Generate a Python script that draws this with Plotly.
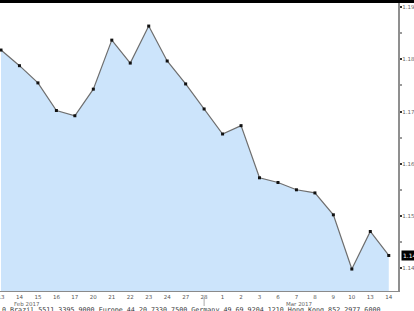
import plotly.graph_objects as go

dates = ["13", "14", "15", "16", "17", "20", "21", "22", "23", "24", "27", "28",
         "1", "2", "3", "6", "7", "8", "9", "10", "13", "14"]
values = [1.1818, 1.1788, 1.1755, 1.1702, 1.1692, 1.1743, 1.1837, 1.1793, 1.1864,
          1.1797, 1.1753, 1.1705, 1.1657, 1.1673, 1.1573, 1.1564, 1.1550, 1.1544,
          1.1502, 1.1398, 1.1470, 1.1424]
y_ticks = [1.14, 1.15, 1.16, 1.17, 1.18, 1.19]
month_labels = ["Feb 2017", "Mar 2017"]
month_pos = [1.43, 16.15]
footer = "0 Brazil 5511 3395 9000 Europe 44 20 7330 7500 Germany 49 69 9204 1210 Hong Kong 852 2977 6000"

idx = list(range(len(values)))

fig = go.Figure()
fig.add_trace(go.Scatter(
    x=idx, y=values, mode="lines+markers",
    fill="tozeroy", fillcolor="#cce4fb",
    line=dict(color="#6e6e6e", width=1.2),
    marker=dict(symbol="square", size=3, color="#111111"),
    hoverinfo="skip", showlegend=False,
))

PLOT_H = 311 - 3 - 20  # 288 px


def py(pix):
    """paper y for a pixel row measured from the top of the page"""
    return (291 - pix) / PLOT_H


fig.update_layout(
    width=414, height=311,
    margin=dict(l=0, r=16, t=3, b=20, autoexpand=False),
    paper_bgcolor="white", plot_bgcolor="white",
    font=dict(family="DejaVu Sans", size=6, color="#555555"),
    xaxis=dict(
        range=[-0.054, 21.5], tickmode="array", tickvals=idx, ticktext=dates,
        showgrid=False, zeroline=False, showline=True, linecolor="#8a8a8a",
        linewidth=1, ticks="", tickfont=dict(size=5.5, color="#555555"),
        ticklabeloverflow="allow", ticklabelstandoff=0, automargin=False,
    ),
    yaxis=dict(
        side="right", range=[1.13559, 1.19082], tickmode="array",
        tickvals=y_ticks, ticktext=[f"{v:.2f}" for v in y_ticks],
        showgrid=False, zeroline=False, showline=True, linecolor="#8f8f8f",
        linewidth=1.5, ticks="outside", ticklen=2.5, tickwidth=1.5,
        tickcolor="#333333", tickfont=dict(size=5.5, color="#666666"),
        ticklabelstandoff=-1, ticklabeloverflow="allow",
        minor=dict(dtick=0.005, ticks="outside", ticklen=2, tickcolor="#999999"),
        automargin=False,
    ),
)

# top black bar
fig.add_shape(type="rect", xref="paper", yref="paper", x0=0, x1=1.05, y0=1.0, y1=1.02,
              fillcolor="black", line_width=0)

# month labels
for lab, pos in zip(month_labels, month_pos):
    fig.add_annotation(x=pos, xref="x", y=py(303.5), yref="paper", text=lab,
                       showarrow=False, font=dict(size=5.5, color="#666666"),
                       xanchor="center", yanchor="middle")

# month separator under "28"
fig.add_shape(type="line", xref="x", yref="paper", x0=11, x1=11, y0=py(297), y1=py(306),
              line=dict(color="#aaaaaa", width=1))

# last value box
fig.add_annotation(x=1.0, xref="paper", y=values[-1], yref="y",
                   text=f"{values[-1]:.4f}", showarrow=False, xanchor="left",
                   xshift=3, bgcolor="black", font=dict(size=6, color="white"),
                   borderpad=1)

# footer
fig.add_annotation(x=0, xref="paper", y=py(309.5), yref="paper", text=footer,
                   showarrow=False, xanchor="left", yanchor="middle",
                   font=dict(size=6.7, color="#333333", family="DejaVu Sans Mono"))

fig.write_html("out.html")
